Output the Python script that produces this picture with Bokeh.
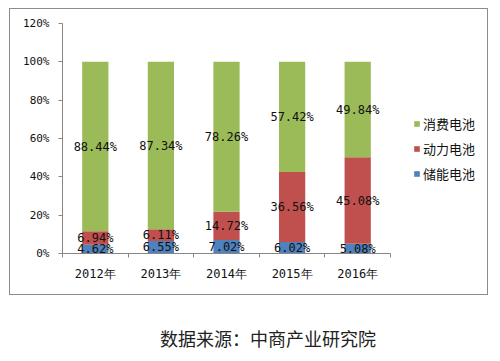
import numpy as np
from bokeh.plotting import figure
from bokeh.models import (ColumnDataSource, Range1d, LinearAxis, FixedTicker,
                          PrintfTickFormatter, LabelSet, Legend, LegendItem, Div)
from bokeh.layouts import column
from bokeh.core.properties import value
from bokeh.embed import file_html
from bokeh.resources import INLINE

years = ["2012年", "2013年", "2014年", "2015年", "2016年"]
storage = [4.62, 6.55, 7.02, 6.02, 5.08]      # 储能电池
power = [6.94, 6.11, 14.72, 36.56, 45.08]     # 动力电池
consumer = [88.44, 87.34, 78.26, 57.42, 49.84]  # 消费电池
series_keys = ["storage", "power", "consumer"]
series_names = ["储能电池", "动力电池", "消费电池"]
colors = ["#4F81BD", "#C0504D", "#9BBB59"]
y_ticks = [0, 20, 40, 60, 80, 100, 120]
source_text = "数据来源：中商产业研究院"

idx = list(range(len(years)))
data = {"x": idx, "storage": storage, "power": power, "consumer": consumer}
vals = np.array([storage, power, consumer])
tops = np.cumsum(vals, axis=0)
for i, k in enumerate(series_keys):
    data[k + "_c"] = list(tops[i] - vals[i] / 2)
    data[k + "_t"] = ["%.2f%%" % v for v in vals[i]]
src = ColumnDataSource(data)

# layout: plot area spans the categories (328px) plus an area to the right for the legend
W, H, LEFT = 479, 287, 52
axis_px = 328
frame_px = W - LEFT
x_start = -0.5
x_end = x_start + len(years) * frame_px / axis_px

p = figure(x_range=Range1d(x_start, x_end), y_range=Range1d(0, 120),
           width=W, height=H, output_backend="svg", toolbar_location=None,
           x_axis_location=None, y_axis_location=None,
           min_border_left=LEFT, min_border_right=0, min_border_top=14, min_border_bottom=43)
p.margin = (8, 0, 0, 9)
p.styles = {"border": "1px solid #8c8c8c"}
p.outline_line_color = None
p.grid.visible = False
p.background_fill_color = "white"
p.border_fill_color = "white"

rs = p.vbar_stack(series_keys, x="x", width=0.4, color=colors, line_color=None, source=src)

for k in series_keys:
    p.add_layout(LabelSet(x="x", y=k + "_c", text=k + "_t", source=src,
                          text_align="center", text_baseline="middle",
                          text_font=value("DejaVu Sans Mono"), text_font_size="12px",
                          text_color="#111111"))

axis_color = "#868686"
yax = LinearAxis(ticker=FixedTicker(ticks=y_ticks), formatter=PrintfTickFormatter(format="%d%%"))
yax.major_tick_in = 0
yax.major_tick_out = 4
yax.minor_tick_line_color = None
yax.axis_line_color = axis_color
yax.major_tick_line_color = axis_color
yax.major_label_text_font = "DejaVu Sans Mono"
yax.major_label_text_font_size = "11px"
yax.major_label_text_color = "#111111"
yax.major_label_standoff = 9
p.add_layout(yax, "left")

bounds = [c - 0.5 for c in idx] + [idx[-1] + 0.5]
xax = LinearAxis(ticker=FixedTicker(ticks=idx, minor_ticks=bounds), bounds=(bounds[0], bounds[-1]))
xax.major_label_overrides = {c: y for c, y in zip(idx, years)}
xax.major_tick_in = 0
xax.major_tick_out = 0
xax.minor_tick_in = 0
xax.minor_tick_out = 4
xax.minor_tick_line_color = axis_color
xax.axis_line_color = axis_color
xax.major_label_text_font = "DejaVu Sans Mono"
xax.major_label_text_font_size = "12px"
xax.major_label_text_color = "#111111"
xax.major_label_standoff = 9
p.add_layout(xax, "below")

legend = Legend(items=[LegendItem(label=series_names[i], renderers=[rs[i]]) for i in [2, 1, 0]],
                location=(351, 70))
legend.border_line_color = None
legend.background_fill_alpha = 0
legend.padding = 0
legend.margin = 0
legend.glyph_width = 7
legend.glyph_height = 7
legend.label_standoff = 3
legend.spacing = 6
legend.label_height = 14
legend.label_text_font = "Noto Sans CJK SC"
legend.label_text_font_size = "13px"
legend.label_text_color = "#111111"
p.add_layout(legend, "center")

div = Div(text=source_text, width=484, height=40,
          styles={"font-family": "'Noto Sans CJK SC'", "font-size": "18px", "color": "#222222",
                  "padding-left": "155px", "margin-top": "31px", "white-space": "nowrap"})

layout = column(p, div, spacing=0)
open("out.html", "w").write(file_html(layout, INLINE))
